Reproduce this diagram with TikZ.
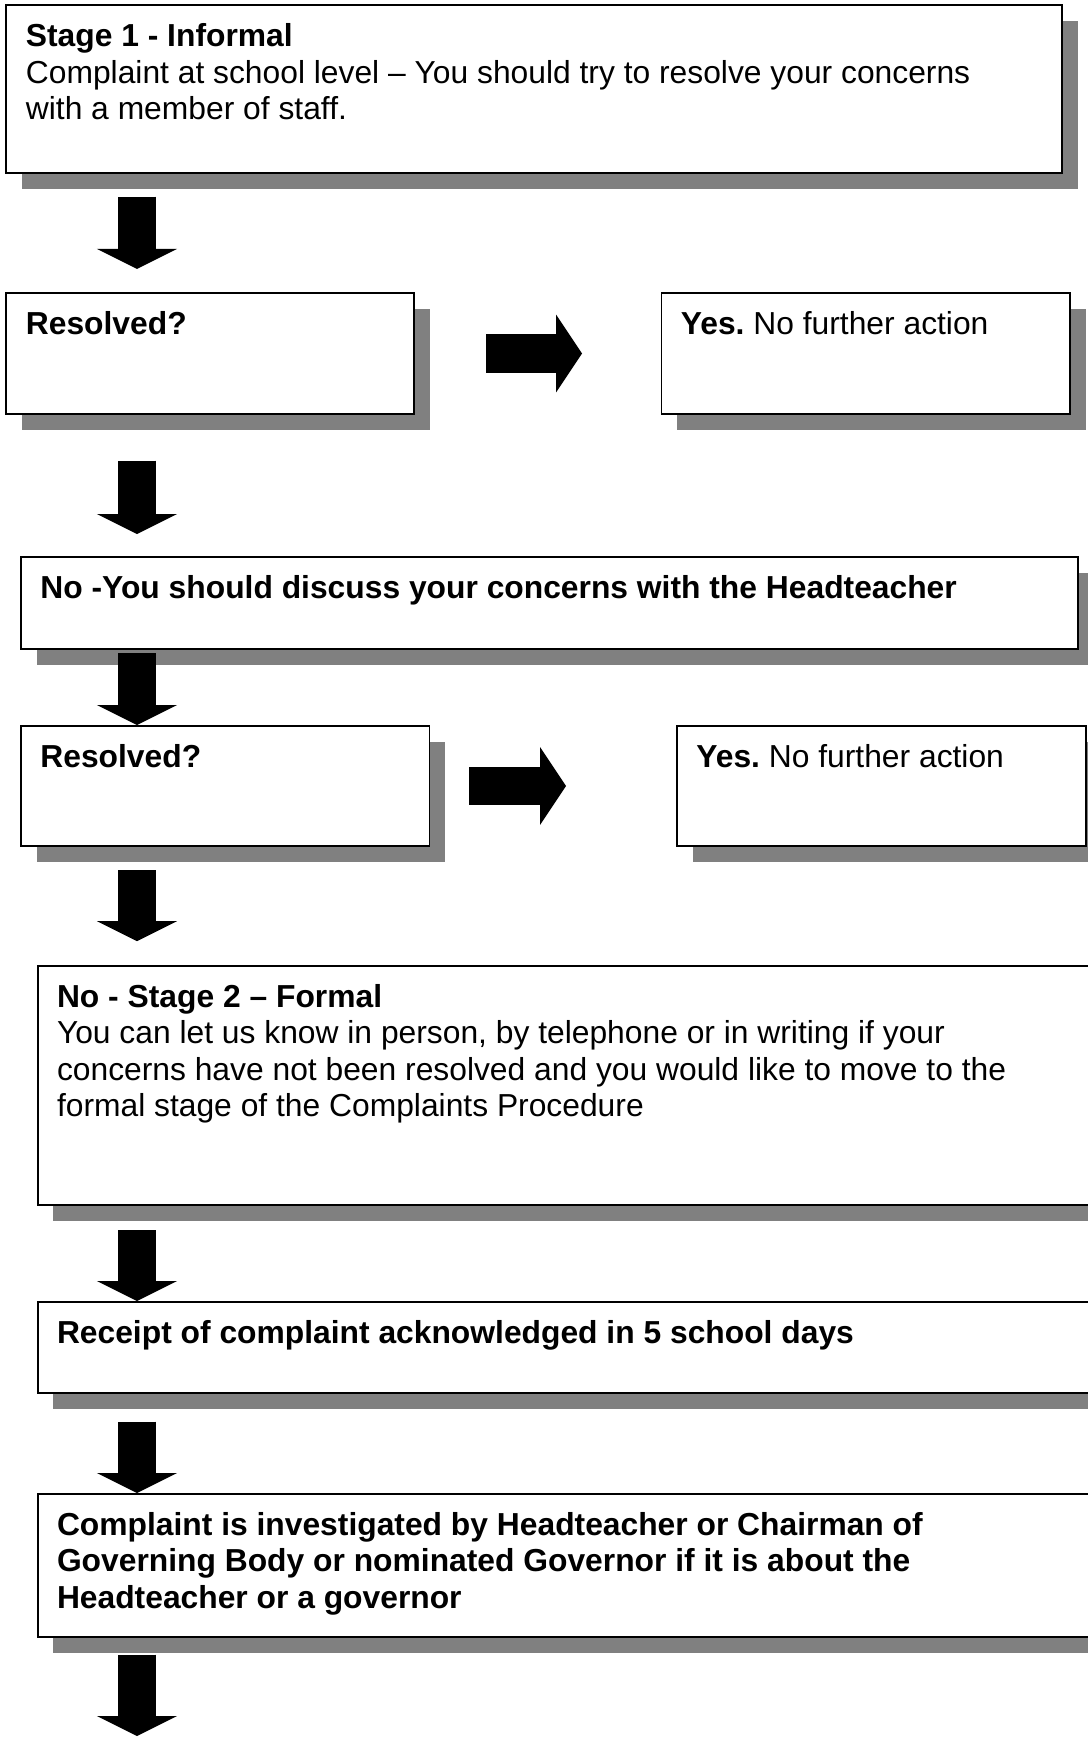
\documentclass[tikz,border=0pt]{standalone}
\usepackage{fontspec}
\setmainfont{Liberation Sans}
\usetikzlibrary{positioning,arrows.meta,shadows}
\definecolor{shadowgray}{HTML}{808080}
\newcommand{\pix}{0.3774pt}
\frenchspacing
\tikzset{
  box/.style={draw, line width=0.75pt, fill=white, anchor=north west, inner sep=0pt,
    drop shadow={shadow xshift=6pt, shadow yshift=-6pt, fill=shadowgray, opacity=1}},
  txt/.style={inner sep=0pt, align=left, font=\fontsize{12}{13.8}\selectfont},
  downarrow/.style={line width=14.3pt, -{Triangle[width=30.2pt, length=7.55pt, line width'=0pt]}},
  rightarrow/.style={line width=14.6pt, -{Triangle[width=29.4pt, length=9.8pt, line width'=0pt]}}
}
\begin{document}
\begin{tikzpicture}[x=\pix, y=-\pix]
    \useasboundingbox (0,0) rectangle (1088,1740);
    \clip (0,0) rectangle (1088,1740);

    % Boxes
    \node[box, minimum width=1055.5*\pix, minimum height=167.6*\pix] (stageone) at (5.5,4.4) {};
    \node[box, minimum width=407.5*\pix, minimum height=121*\pix] (resolvedone) at (5.5,292) {};
    \node[box, minimum width=408.5*\pix, minimum height=121*\pix] (yesone) at (660.5,292) {};
    \node[box, minimum width=1057*\pix, minimum height=92*\pix] (headteacher) at (20,556) {};
    \node[box, minimum width=408.5*\pix, minimum height=120*\pix] (resolvedtwo) at (20,725) {};
    \node[box, minimum width=409*\pix, minimum height=120*\pix] (yestwo) at (676,725) {};
    \node[box, minimum width=1080*\pix, minimum height=239*\pix] (stagetwo) at (36.6,965) {};
    \node[box, minimum width=1080*\pix, minimum height=91*\pix] (receipt) at (36.6,1301) {};
    \node[box, minimum width=1080*\pix, minimum height=143*\pix] (investigated) at (36.6,1493) {};

    % Texts
    \node[txt, below right=7pt and 7.5pt of stageone.north west] (stageonetxt)
        {\textbf{Stage 1 - Informal}\\Complaint at school level – You should try to resolve your concerns\\with a member of staff.};
    \node[txt, below right=7pt and 7.5pt of resolvedone.north west] (resolvedonetxt) {\textbf{Resolved?}};
    \node[txt, below right=7pt and 7.5pt of yesone.north west] (yesonetxt) {\textbf{Yes.} No further action};
    \node[txt, below right=7pt and 7.5pt of headteacher.north west] (headteachertxt)
        {\textbf{No -You should discuss your concerns with the Headteacher}};
    \node[txt, below right=7pt and 7.5pt of resolvedtwo.north west] (resolvedtwotxt) {\textbf{Resolved?}};
    \node[txt, below right=7pt and 7.5pt of yestwo.north west] (yestwotxt) {\textbf{Yes.} No further action};
    \node[txt, below right=7pt and 7.5pt of stagetwo.north west] (stagetwotxt)
        {\textbf{No - Stage 2 – Formal}\\You can let us know in person, by telephone or in writing if your\\concerns have not been resolved and you would like to move to the\\formal stage of the Complaints Procedure};
    \node[txt, below right=7pt and 7.5pt of receipt.north west] (receipttxt)
        {\textbf{Receipt of complaint acknowledged in 5 school days}};
    \node[txt, below right=7pt and 7.5pt of investigated.north west] (investigatedtxt)
        {\textbf{Complaint is investigated by Headteacher or Chairman of}\\\textbf{Governing Body or nominated Governor if it is about the}\\\textbf{Headteacher or a governor}};

    % Block arrows
    \coordinate (arrowx) at (137,0);
    \coordinate (bottomend) at (137,1736);
    \draw[downarrow, shorten <=8.5pt, shorten >=8.7pt] (stageone.south -| arrowx) -- (resolvedone.north -| arrowx);
    \draw[rightarrow, shorten <=26.8pt, shorten >=29.6pt] (resolvedone.east) -- (yesone.west);
    \draw[downarrow, shorten <=17.2pt, shorten >=8.3pt] (resolvedone.south -| arrowx) -- (headteacher.north -| arrowx);
    \draw[downarrow, shorten <=1.3pt] (headteacher.south -| arrowx) -- (resolvedtwo.north -| arrowx);
    \draw[rightarrow, shorten <=14.7pt, shorten >=41.5pt] (resolvedtwo.east) -- (yestwo.west);
    \draw[downarrow, shorten <=8.7pt, shorten >=9pt] (resolvedtwo.south -| arrowx) -- (stagetwo.north -| arrowx);
    \draw[downarrow, shorten <=9.2pt] (stagetwo.south -| arrowx) -- (receipt.north -| arrowx);
    \draw[downarrow, shorten <=10.4pt] (receipt.south -| arrowx) -- (investigated.north -| arrowx);
    \draw[downarrow, shorten <=6.3pt] (investigated.south -| arrowx) -- (bottomend);
\end{tikzpicture}
\end{document}
